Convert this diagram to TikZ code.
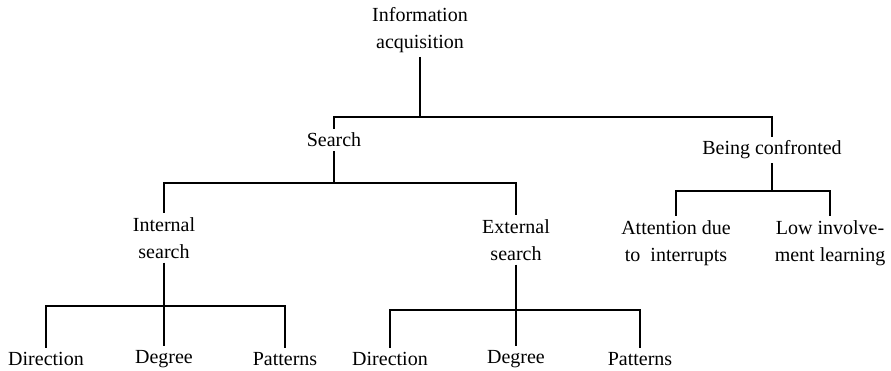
\documentclass[tikz,border=0pt]{standalone}
\usepackage{fontspec}
\setmainfont{Liberation Serif}
\usetikzlibrary{positioning}

\begin{document}
\begin{tikzpicture}[
  x=1pt, y=-1pt,
  term/.style={align=center, inner sep=4pt, font=\fontsize{20}{27}\selectfont},
  branch/.style={line width=2.1pt}
]
\useasboundingbox (0,0) rectangle (891,371);

% Level 0 - root
\node[term] (Info) at (420,30) {Information\\acquisition};
\coordinate (InfoBar) at (420,117);

% Level 1
\node[term] (Search) at (334,140) {Search};
\node[term] (Confront) at (772,150) {Being confronted};
\coordinate (SearchBar) at (334,183);
\coordinate (ConfrontBar) at (772,191);

% Level 2 - search
\node[term] (Internal) at (164,238) {Internal\\search};
\node[term] (External) at (516,240) {External\\search};
\coordinate (InternalBar) at (164,306);
\coordinate (ExternalBar) at (516,310);

% Level 2 - being confronted
\node[term] (Attention) at (676,243) {Attention due\\to\ \ interrupts};
\node[term] (LowInv) at (830,243) {Low involve-\\ment learning};

% Level 3 - internal search
\node[term] (IntDir) at (46,359) {Direction};
\node[term] (IntDeg) at (164,359) {Degree};
\node[term] (IntPat) at (285,359) {Patterns};

% Level 3 - external search
\node[term] (ExtDir) at (390,359) {Direction};
\node[term] (ExtDeg) at (516,359) {Degree};
\node[term] (ExtPat) at (640,359) {Patterns};

% Root -> level 1
\draw[branch] (Info) -- (InfoBar);
\draw[branch] (InfoBar) -| (Search);
\draw[branch] (InfoBar) -| (Confront);

% Search -> internal / external
\draw[branch] (Search) -- (SearchBar);
\draw[branch] (SearchBar) -| (Internal);
\draw[branch] (SearchBar) -| (External);

% Being confronted -> its two kinds
\draw[branch] (Confront) -- (ConfrontBar);
\draw[branch] (ConfrontBar) -| (Attention);
\draw[branch] (ConfrontBar) -| (LowInv);

% Internal search -> leaves
\draw[branch] (Internal) -- (InternalBar);
\draw[branch] (InternalBar) -| (IntDir);
\draw[branch] (InternalBar) -- (IntDeg);
\draw[branch] (InternalBar) -| (IntPat);

% External search -> leaves
\draw[branch] (External) -- (ExternalBar);
\draw[branch] (ExternalBar) -| (ExtDir);
\draw[branch] (ExternalBar) -- (ExtDeg);
\draw[branch] (ExternalBar) -| (ExtPat);

\end{tikzpicture}
\end{document}
